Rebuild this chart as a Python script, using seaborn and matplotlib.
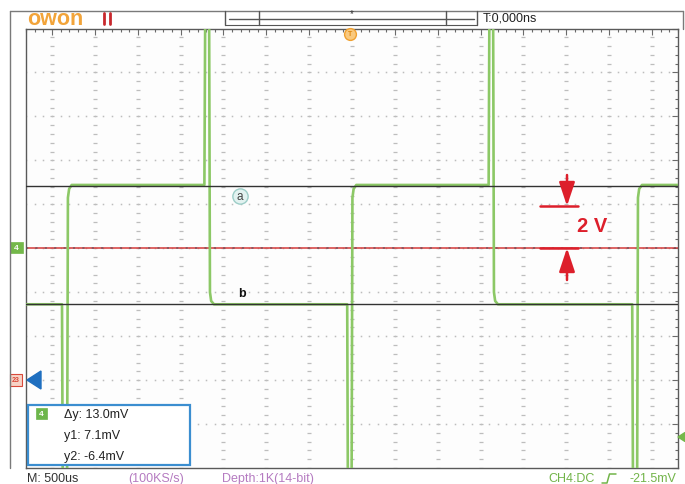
import numpy as np
import pandas as pd
import matplotlib
matplotlib.use("Agg")
import matplotlib.pyplot as plt
import seaborn as sns
from matplotlib.lines import Line2D
from matplotlib.patches import Rectangle, Polygon, FancyArrowPatch

# ---- CH4 trace: breakpoints (time in microseconds, voltage in volts) ----
trace_time_us = [
    -3803, -3383, -3374, -3324, -3314, -3300, -3270,
    -1722, -1712, -1667, -1657, -1643, -1610,
    -56, -48, -5, 5, 19, 50,
    1594, 1603, 1646, 1656, 1670, 1703,
    3269, 3278, 3326, 3336, 3350, 3383, 3803,
]
trace_volt = [
    -2.55, -2.55, -11.0, -11.0, 2.30, 2.70, 2.88,
    2.88, 11.0, 11.0, -2.00, -2.40, -2.55,
    -2.55, -11.0, -11.0, 2.30, 2.70, 2.88,
    2.88, 11.0, 11.0, -2.00, -2.40, -2.55,
    -2.55, -11.0, -11.0, 2.30, 2.70, 2.88, 2.88,
]

# cursor levels (V)
cursor_a_v = 2.84
cursor_b_v = -2.52
cursor_readout = ["\u0394y: 13.0mV", "y1: 7.1mV", "y2: -6.4mV"]

# status line texts
timebase_label = "M: 500us"
rate_label = "(100KS/s)"
depth_label = "Depth:1K(14-bit)"
coupling_label = "CH4:DC"
trigger_label = "-21.5mV"
trig_time_label = "T:0,000ns"
scale_label = "2 V"

# screen geometry
time_per_div = 500.0      # us / div
volt_per_div = 2.0        # V / div
half_span_t = 3803.0
half_span_v = 10.0

W, H = 685, 485
GREEN = "#8cc866"
TAG_GREEN = "#74b84a"
RED = "#dd1f2b"
PURPLE = "#b57bc1"


def fx(x):
    return x / W


def fy(y):
    return 1 - y / H


sns.set_style("white")
plt.rcParams["font.family"] = ["Liberation Sans", "DejaVu Sans"]

fig = plt.figure(figsize=(W / 100, H / 100), dpi=100, facecolor="white")
ax = fig.add_axes([fx(26), fy(469), 652 / W, 439.5 / H])
ax.set_facecolor("#fdfdfd")
ax.set_xlim(-half_span_t, half_span_t)
ax.set_ylim(-half_span_v, half_span_v)

# graticule: dotted division lines made of sub-division marks
xmaj = np.arange(-7, 8) * time_per_div
xmin = np.arange(-38, 39) * time_per_div / 5
ymaj = np.arange(-4, 5) * volt_per_div
ymin = np.arange(-25, 26) * volt_per_div / 5
for xv in xmaj:
    ax.plot(np.full_like(ymin, xv), ymin, ls="none", marker="_", ms=2.6,
            mew=0.9, color="#bdbdbd", zorder=1)
for yv in ymaj:
    ax.plot(xmin, np.full_like(xmin, yv), ls="none", marker="s", ms=1.1,
            mew=0, color="#bdbdbd", zorder=1)

ax.set_xticks(xmaj)
ax.set_xticks(xmin, minor=True)
ax.set_yticks(np.arange(-5, 6) * volt_per_div)
ax.set_yticks(ymin, minor=True)
ax.tick_params(which="both", direction="in", top=True, right=True,
               labelbottom=False, labelleft=False, color="#6a6a6a", width=0.8)
ax.tick_params(which="major", length=4.2)
ax.tick_params(which="minor", length=2.3)
for s in ax.spines.values():
    s.set_color("#5a5a5a")
    s.set_linewidth(1.0)

# reference zero line
ax.axhline(0, color="#d43a3a", lw=1.1, zorder=2)
ax.axhline(0, color="#4a4a5a", lw=1.3, ls=(0, (1.2, 4)), alpha=0.55, zorder=2)

# CH4 waveform
df = pd.DataFrame({"t": trace_time_us, "v": trace_volt})
sns.lineplot(data=df, x="t", y="v", estimator=None, sort=False, color=GREEN,
             lw=1.9, ax=ax, zorder=3)
ax.set_xlabel("")
ax.set_ylabel("")

# cursors
ax.axhline(cursor_a_v, color="#333333", lw=1.0, zorder=4)
ax.axhline(cursor_b_v, color="#333333", lw=1.0, zorder=4)


# ---- header bar ----
def fline(xs, ys, **kw):
    fig.add_artist(Line2D([fx(v) for v in xs], [fy(v) for v in ys], **kw))


fline([10, 683], [12, 12], color="#7a7a7a", lw=1.0)
fline([10, 10], [12, 469], color="#7a7a7a", lw=1.0)
fline([683, 683], [12, 29.5], color="#7a7a7a", lw=1.0)
fig.text(fx(27), fy(19.5), "owon", color="#f2a43a", fontsize=15.5,
         fontweight="bold", va="center", ha="left")
# run/stop indicator (pause bars)
fline([104, 104], [14, 25], color="#c8282d", lw=2.0)
fline([109.5, 109.5], [14, 25], color="#c8282d", lw=2.0)

# memory position bar
fline([225, 225], [12, 26], color="#555555", lw=1.0)
fline([477, 477], [12, 26], color="#555555", lw=1.0)
fline([225, 477], [26, 26], color="#555555", lw=0.8)
fline([229, 474], [19.5, 19.5], color="#555555", lw=1.0)
fline([259, 259], [12, 26], color="#555555", lw=1.0)
fline([446, 446], [12, 26], color="#555555", lw=1.0)
fig.text(fx(352), fy(14), "*", color="#333333", fontsize=7, ha="center", va="center")
fig.text(fx(483), fy(18.5), trig_time_label, color="#222222", fontsize=9,
         ha="left", va="center")

# trigger position marker
fig.add_artist(Line2D([fx(350)], [fy(35)], marker="o", ms=8.5, mfc="#f9c97f",
                      mec="#f0a030", mew=1.0))
fig.text(fx(350), fy(35), "T", color="#e08a10", fontsize=5, ha="center",
         va="center", fontweight="bold")

# ---- left / right markers ----
fig.add_artist(Rectangle((fx(10), fy(254)), 13 / W, 11 / H, facecolor=TAG_GREEN,
                         edgecolor=TAG_GREEN, lw=0.5))
fig.text(fx(16.5), fy(248.5), "4", color="white", fontsize=6, ha="center",
         va="center", fontweight="bold")
fig.add_artist(Rectangle((fx(10), fy(387)), 12 / W, 12 / H, facecolor="#f7d3c6",
                         edgecolor="#d9493a", lw=0.8))
fig.text(fx(16), fy(381), "23", color="#d9493a", fontsize=5, ha="center",
         va="center", fontweight="bold")
fig.add_artist(Polygon([(fx(27), fy(381)), (fx(41), fy(372)), (fx(41), fy(390))],
                       closed=True, facecolor="#1f6fc0", edgecolor="#1f6fc0"))
fig.add_artist(Polygon([(fx(678), fy(438)), (fx(685), fy(433.5)), (fx(685), fy(442.5))],
                       closed=True, facecolor=TAG_GREEN, edgecolor=TAG_GREEN))

# cursor tags
fig.add_artist(Line2D([fx(240)], [fy(196.5)], marker="o", ms=11, mfc="#e2f2f0",
                      mec="#9ccdc7", mew=1.0))
fig.text(fx(240), fy(197), "a", color="#444444", fontsize=8.5, ha="center", va="center")
fig.text(fx(242), fy(294.5), "b", color="#111111", fontsize=9, ha="center",
         va="center", fontweight="bold")

# ---- 2 V scale annotation ----
fline([540, 578], [207, 207], color=RED, lw=1.8)
fline([540, 578], [249, 249], color=RED, lw=1.8)
fig.add_artist(FancyArrowPatch(
    (fx(567), fy(176)), (fx(567), fy(207)), transform=fig.transFigure,
    arrowstyle="-|>,head_width=0.3,head_length=0.9", mutation_scale=16,
    color=RED, lw=1.8, shrinkA=0, shrinkB=0))
fig.add_artist(FancyArrowPatch(
    (fx(567), fy(281)), (fx(567), fy(249)), transform=fig.transFigure,
    arrowstyle="-|>,head_width=0.3,head_length=0.9", mutation_scale=16,
    color=RED, lw=1.8, shrinkA=0, shrinkB=0))
fig.text(fx(577), fy(226.5), scale_label, color=RED, fontsize=14.5,
         fontweight="bold", ha="left", va="center")

# ---- cursor readout box ----
fig.add_artist(Rectangle((fx(28), fy(466)), 162 / W, 60 / H, facecolor="white",
                         edgecolor="#3b8ed0", lw=1.6, zorder=5))
fig.add_artist(Rectangle((fx(36), fy(420)), 11 / W, 11 / H, facecolor="#6db64b",
                         edgecolor="#6db64b", lw=0.5, zorder=6))
fig.text(fx(41.5), fy(414.5), "4", color="white", fontsize=6, ha="center",
         va="center", fontweight="bold", zorder=7)
for i, line in enumerate(cursor_readout):
    fig.text(fx(64), fy(415.5 + 21 * i), line, color="#222222", fontsize=9,
             ha="left", va="center", zorder=7)

# ---- status line ----
fig.text(fx(27), fy(479.5), timebase_label, color="#333333", fontsize=9, va="center")
fig.text(fx(128), fy(479.5), rate_label, color=PURPLE, fontsize=9, va="center")
fig.text(fx(222), fy(479.5), depth_label, color=PURPLE, fontsize=9, va="center")
fig.text(fx(548), fy(479.5), coupling_label, color="#72b449", fontsize=9, va="center")
fline([602, 607, 609.5, 616], [484, 484, 475, 475], color="#72b449", lw=1.1)
fig.text(fx(676), fy(479.5), trigger_label, color="#72b449", fontsize=9,
         va="center", ha="right")

fig.savefig("out.png", dpi=100, facecolor="white")
